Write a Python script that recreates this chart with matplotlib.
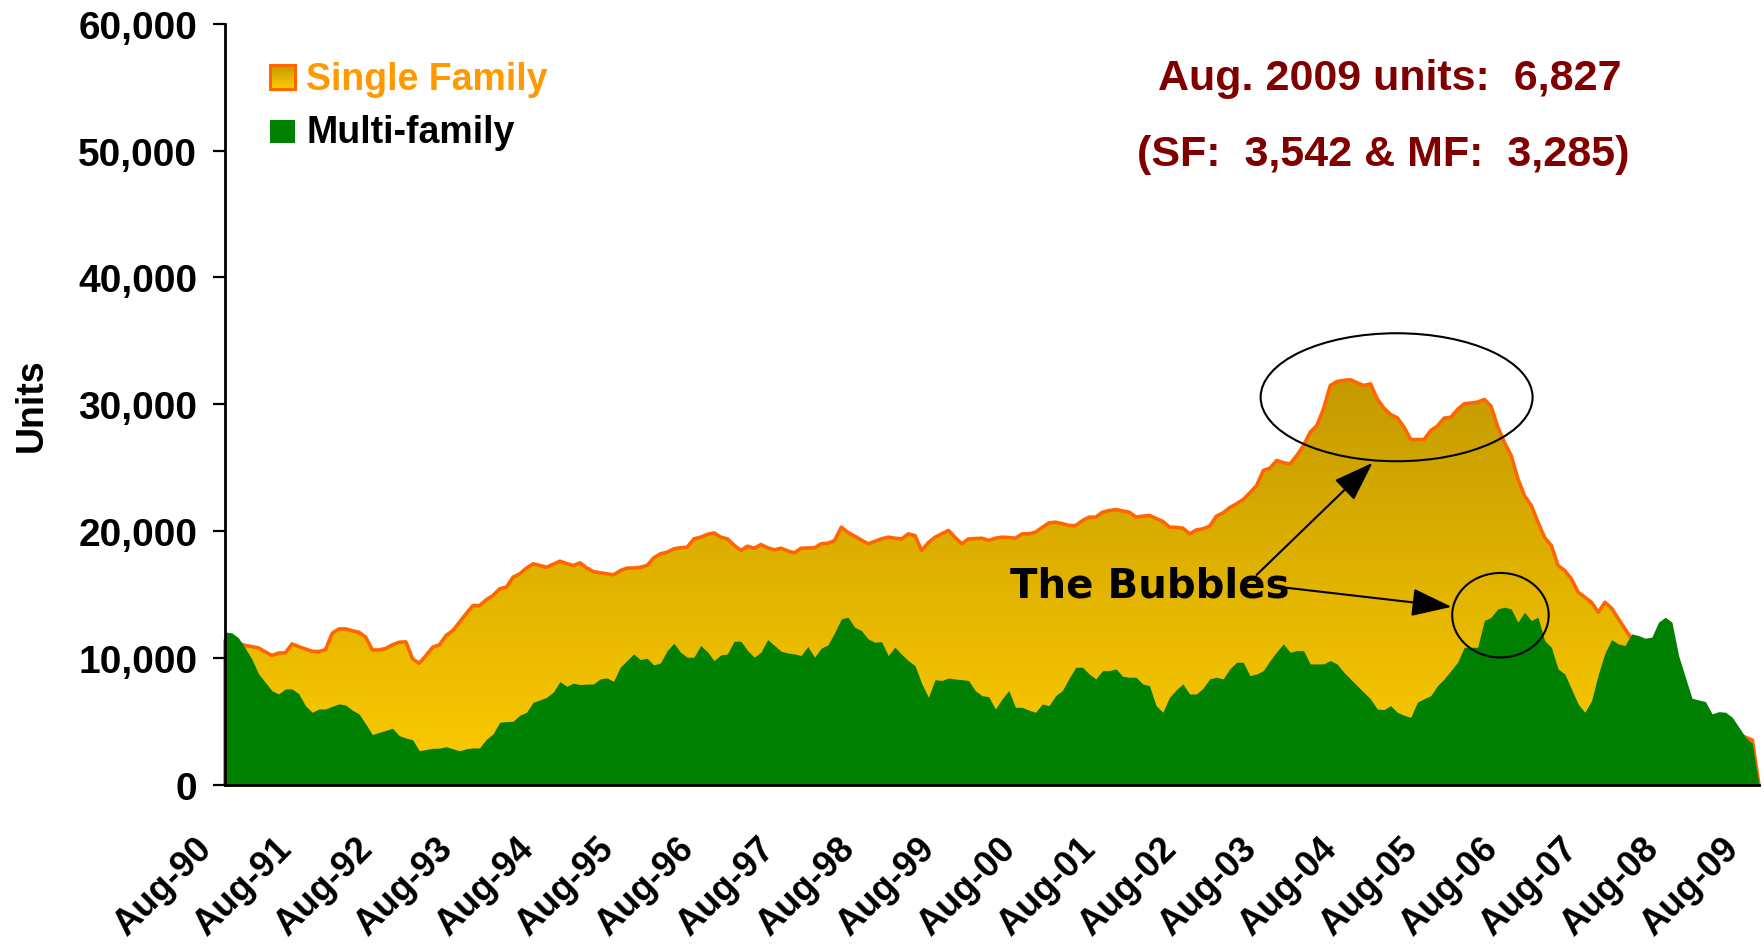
import numpy as np
import matplotlib.pyplot as plt
from matplotlib.colors import LinearSegmentedColormap
from matplotlib.patches import Ellipse, Rectangle
from matplotlib.ticker import StrMethodFormatter
from matplotlib.transforms import ScaledTranslation

plt.rcParams['font.family'] = ['Liberation Sans', 'DejaVu Sans']
plt.rcParams['font.weight'] = 'bold'

# monthly permits, Aug-90 .. Aug-09 (last entry closes the area)
single_family = [
    11380, 11250, 11170, 11000, 10900, 10800, 10500, 10200, 10400, 10410, 11120, 10900,
    10720, 10540, 10510, 10670, 11960, 12300, 12300, 12150, 12040, 11640, 10640, 10640,
    10760, 11050, 11250, 11280, 9935, 9590, 10200, 10860, 11040, 11780, 12170, 12830,
    13500, 14140, 14140, 14600, 14930, 15460, 15590, 16380, 16640, 17100, 17430, 17300,
    17160, 17400, 17640, 17450, 17300, 17510, 17100, 16820, 16720, 16650, 16560, 16900,
    17090, 17100, 17160, 17300, 17900, 18220, 18350, 18610, 18700, 18740, 19400, 19530,
    19750, 19870, 19530, 19400, 18900, 18480, 18820, 18660, 18950, 18700, 18530, 18660,
    18450, 18300, 18660, 18680, 18690, 19010, 19050, 19270, 20320, 19900, 19610, 19300,
    19010, 19200, 19400, 19530, 19450, 19400, 19790, 19660, 18480, 19100, 19530, 19800,
    20060, 19500, 19010, 19400, 19420, 19450, 19270, 19450, 19530, 19500, 19450, 19790,
    19800, 19930, 20300, 20660, 20710, 20600, 20450, 20450, 20840, 21110, 21110, 21500,
    21630, 21710, 21600, 21500, 21110, 21190, 21240, 21000, 20770, 20320, 20300, 20240,
    19790, 20100, 20190, 20400, 21190, 21450, 21870, 22160, 22500, 23030, 23600, 24790,
    24970, 25580, 25400, 25310, 25970, 26760, 27800, 28340, 29650, 31490, 31800, 31890,
    31940, 31700, 31490, 31620, 30440, 29700, 29200, 28940, 28210, 27230, 27230, 27230,
    27940, 28300, 28920, 28990, 29600, 30050, 30100, 30180, 30390, 29860, 28210, 27000,
    25970, 24130, 22800, 22030, 20710, 19500, 18870, 17300, 16900, 16240, 15190, 14800,
    14400, 13610, 14400, 13930, 13090, 12300, 11510, 11000, 10400, 9800, 9200, 8600,
    8000, 7300, 6600, 6000, 5600, 5200, 4900, 4700, 4500, 4300, 4000, 3750,
    3542, 0,
]
multi_family = [
    12060, 11990, 11600, 10800, 9930, 8750, 8100, 7430, 7170, 7570, 7570, 7200,
    6250, 5730, 5990, 5990, 6200, 6390, 6300, 5900, 5600, 4810, 3970, 4150,
    4300, 4470, 3890, 3700, 3570, 2700, 2800, 2890, 2900, 3020, 2850, 2700,
    2850, 2920, 2920, 3600, 4020, 4940, 5000, 5020, 5500, 5730, 6520, 6700,
    6910, 7310, 8150, 7780, 8020, 7910, 7950, 7960, 8360, 8440, 8170, 9280,
    9800, 10330, 9880, 9990, 9460, 9620, 10590, 11170, 10460, 10070, 10070, 10990,
    10510, 9800, 10250, 10330, 11330, 11330, 10600, 10070, 10460, 11460, 11000, 10540,
    10400, 10330, 10200, 10910, 10070, 10780, 11040, 12000, 13090, 13220, 12430, 12170,
    11510, 11250, 11300, 10200, 10860, 10300, 9800, 9410, 8000, 6910, 8300, 8230,
    8430, 8350, 8300, 8230, 7440, 7040, 6960, 5990, 6780, 7440, 6120, 6120,
    5900, 5730, 6380, 6250, 7040, 7440, 8400, 9280, 9280, 8750, 8360, 9010,
    9010, 9150, 8570, 8490, 8490, 7960, 7830, 6250, 5730, 6910, 7500, 7960,
    7170, 7170, 7620, 8360, 8490, 8360, 9150, 9670, 9670, 8620, 8750, 9010,
    9800, 10500, 11120, 10460, 10590, 10590, 9540, 9540, 9540, 9800, 9540, 8900,
    8360, 7830, 7300, 6780, 5990, 5940, 6250, 5730, 5500, 5330, 6520, 6800,
    7040, 7830, 8360, 9010, 9670, 10850, 10850, 10850, 12960, 13220, 13880, 14010,
    13880, 12830, 13610, 12960, 13220, 11380, 10850, 9150, 8750, 7570, 6380, 5730,
    6650, 8700, 10400, 11450, 11120, 10990, 11910, 11780, 11570, 11650, 12830, 13220,
    12830, 10200, 8500, 6840, 6700, 6570, 5600, 5780, 5730, 5340, 4550, 3760,
    3285, 0,
]
tick_labels = ["Aug-90", "Aug-91", "Aug-92", "Aug-93", "Aug-94", "Aug-95", "Aug-96",
               "Aug-97", "Aug-98", "Aug-99", "Aug-00", "Aug-01", "Aug-02", "Aug-03",
               "Aug-04", "Aug-05", "Aug-06", "Aug-07", "Aug-08", "Aug-09"]

sf = np.array(single_family)
mf = np.array(multi_family)
x = np.arange(len(sf))

fig = plt.figure(figsize=(17.65, 9.45), dpi=100)
ax = fig.add_axes([0.1275, 0.1683, 0.8691, 0.8055])

# single family: gold gradient clipped to its area, orange outline
gold = LinearSegmentedColormap.from_list('gold', ['#FFCC00', '#C49A00'])
sf_poly = ax.fill_between(x, sf, 0, facecolor='none', edgecolor='#FF6600',
                          linewidth=2.6, zorder=1.5, clip_on=False)
img = ax.imshow(np.linspace(0, 1, 256).reshape(-1, 1), cmap=gold, origin='lower',
                aspect='auto', extent=[0, x[-1], 0, sf.max()], zorder=1)
img.set_clip_path(sf_poly.get_paths()[0], transform=ax.transData)

# multi-family drawn on top
ax.fill_between(x, mf, 0, color='#008000', linewidth=0, zorder=2)

for s in ['top', 'right']:
    ax.spines[s].set_visible(False)
for s in ['left', 'bottom']:
    ax.spines[s].set_linewidth(2)
    ax.spines[s].set_color('black')

ax.set_yticks(range(0, 60001, 10000))
ax.yaxis.set_major_formatter(StrMethodFormatter('{x:,.0f}'))
ax.tick_params(axis='y', direction='out', length=9, width=1.6, pad=11, labelsize=28)
ax.set_xticks(x[:-1:12], labels=tick_labels, rotation=45, ha='right', va='top',
              rotation_mode='anchor', fontsize=26)
ax.tick_params(axis='x', length=0, pad=0)
shift = ScaledTranslation(-31 / 100, -46 / 100, fig.dpi_scale_trans)
for lab in ax.get_xticklabels():
    lab.set_transform(lab.get_transform() + shift)

ax.set_ylabel("Units", fontsize=27, fontweight='bold', va='center')
ax.yaxis.set_label_coords(-0.126, 0.5)

# legend
ax.imshow(np.linspace(0, 1, 64).reshape(-1, 1), cmap=gold, origin='lower',
          aspect='auto', extent=[0.0293, 0.0456, 0.914, 0.9455],
          transform=ax.transAxes, zorder=3, clip_on=False)
ax.add_patch(Rectangle((0.0293, 0.914), 0.0163, 0.0315, transform=ax.transAxes,
                       fill=False, ec='#FF6600', lw=2.2, zorder=4, clip_on=False))
ax.add_patch(Rectangle((0.0293, 0.843), 0.0163, 0.030, transform=ax.transAxes,
                       fc='#008000', ec='none', zorder=4, clip_on=False))
ax.text(0.0528, 0.9276, "Single Family", transform=ax.transAxes, fontsize=27,
        color='#FF9900', va='center', ha='left')
ax.text(0.0528, 0.8575, "Multi-family", transform=ax.transAxes, fontsize=27,
        color='black', va='center', ha='left')
ax.set_xlim(0, x[-1])
ax.set_ylim(0, 60000)

# summary text
ax.text(173.9, 55700, "Aug. 2009 units:  6,827", fontsize=31, color='#800000',
        ha='center', va='center')
ax.text(172.9, 49730, "(SF:  3,542 & MF:  3,285)", fontsize=31, color='#800000',
        ha='center', va='center')

# bubbles
ax.add_patch(Ellipse((174.9, 30560), 40.6, 10090, fill=False, ec='black', lw=1.5, zorder=5))
ax.add_patch(Ellipse((190.4, 13380), 14.4, 6660, fill=False, ec='black', lw=1.5, zorder=5))
ax.text(138.1, 15740, "The Bubbles", fontsize=29, family='DejaVu Sans',
        ha='center', va='center', zorder=6)
arrow = dict(arrowstyle='-|>,head_length=1.0,head_width=0.35', color='black', lw=1.5,
             mutation_scale=25, shrinkA=0, shrinkB=0)
ax.annotate('', xy=(171.3, 25390), xytext=(154.0, 16560), arrowprops=arrow, zorder=6)
ax.annotate('', xy=(183.1, 14040), xytext=(157.2, 15620), arrowprops=arrow, zorder=6)

plt.savefig("out.png", dpi=100)
